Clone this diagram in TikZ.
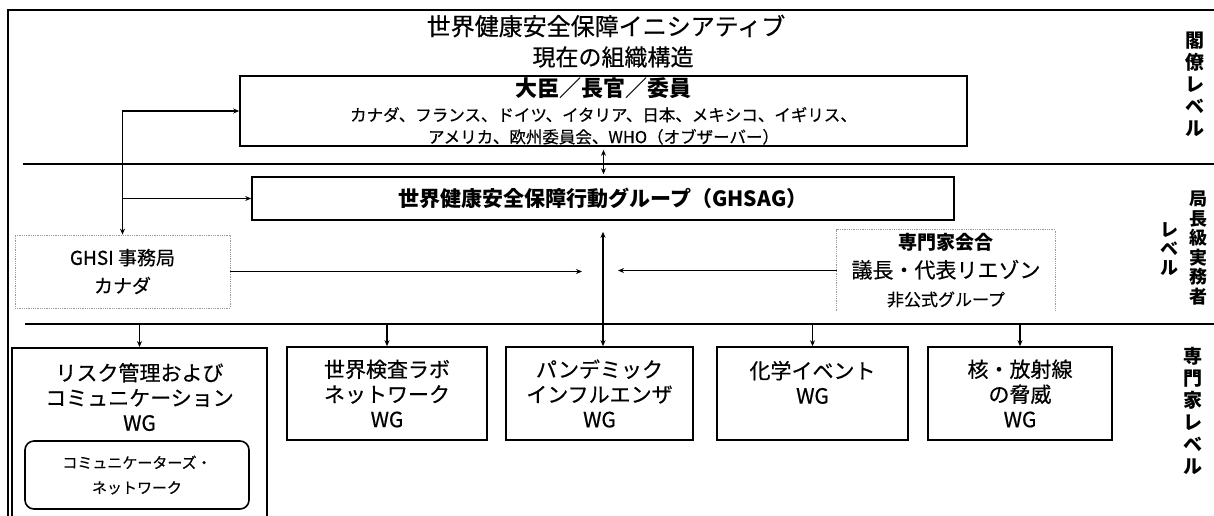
\documentclass[tikz,border=0pt]{standalone}
\usepackage{fontspec}
\setmainfont{Noto Sans CJK JP}[UprightFeatures={FakeBold=0.5}]
\usetikzlibrary{arrows.meta}

\begin{document}
\begin{tikzpicture}[x=1pt,y=-1pt,
    box/.style={draw,line width=1.6pt,align=center,inner sep=0pt},
    faint/.style={draw=black!40,densely dotted,line width=0.8pt},
    wg/.style={box,minimum height=93pt,font=\fontsize{21}{25}\selectfont},
    arr/.style={line width=1.4pt,-{Stealth[length=6pt,width=5pt]}},
    dbl/.style={line width=1.4pt,{Stealth[length=6pt,width=5pt]}-{Stealth[length=6pt,width=5pt]}},
    rule/.style={line width=1.4pt},
    levellbl/.style={align=center,inner sep=0pt}]
  \useasboundingbox (0,0) rectangle (1214,515);
  % frame and level dividers
  \draw[line width=2.5pt] (8,520) -- (8,10) -- (1214,10);
  \draw[rule] (23,164) -- (1214,164);
  \draw[rule] (25,324) -- (1214,324);
  \coordinate (divB) at (25,324);
  % title
  \node[font=\fontsize{24}{26}\selectfont] (title) at (606,26) {世界健康安全保障イニシアティブ};
  \node[font=\fontsize{23}{25}\selectfont] (subtitle) at (613,57) {現在の組織構造};
  % ministers
  \node[box,minimum width=727pt,minimum height=70pt,font=\fontsize{16.5}{22}\selectfont] (minister) at (603.5,111)
    {{\bfseries\fontsize{22}{24}\selectfont 大臣／長官／委員}\\[3pt]
     カナダ、フランス、ドイツ、イタリア、日本、メキシコ、イギリス、\\
     アメリカ、欧州委員会、WHO（オブザーバー）};
  % senior officials
  \node[box,minimum width=702pt,minimum height=43pt,font=\bfseries\fontsize{21}{24}\selectfont] (sag) at (603,198.5)
    {世界健康安全保障行動グループ（GHSAG）};
  \node[faint,minimum width=215pt,minimum height=73pt,align=center,font=\fontsize{19}{28}\selectfont] (ghsi) at (122.5,271.5)
    {GHSI 事務局\\カナダ};
  \node[minimum width=218pt,minimum height=81pt,align=center,inner sep=0pt,font=\fontsize{21}{28}\selectfont] (expert) at (946,270.5)
    {{\bfseries\fontsize{19}{22}\selectfont 専門家会合}\\議長・代表リエゾン\\{\fontsize{17}{20}\selectfont 非公式グループ}};
  \draw[faint] (expert.south west) |- (expert.north east) -- (expert.south east);
  % working groups
  \node[box,minimum width=255pt,minimum height=173pt,anchor=north] (risk) at (139.5,347) {};
  \node[align=center,font=\fontsize{21}{25}\selectfont] (risktext) at (139.5,397)
    {リスク管理および\\コミュニケーション\\WG};
  \node[draw,line width=1.6pt,rounded corners=9pt,minimum width=224pt,minimum height=68pt,align=center,
    font=\fontsize{15}{25}\selectfont] (comms) at (137,475) {コミュニケーターズ・\\ネットワーク};
  \node[wg,minimum width=200pt] (lab) at (387,393.5) {世界検査ラボ\\ネットワーク\\WG};
  \node[wg,minimum width=187pt] (flu) at (599.5,393.5) {パンデミック\\インフルエンザ\\WG};
  \node[wg,minimum width=191pt] (chem) at (812.5,393.5) {化学イベント\\WG\\[-10pt]\strut};
  \node[wg,minimum width=184pt] (nuke) at (1020,393.5) {核・放射線\\の脅威\\WG};
  % level labels
  \node[levellbl,font=\bfseries\fontsize{19}{22}\selectfont] (lvlmin) at (1195,84) {閣\\僚\\レ\\ベ\\ル};
  \node[levellbl,font=\bfseries\fontsize{18}{19.5}\selectfont] (lvlsen) at (1198,248) {局\\長\\級\\実\\務\\者};
  \node[levellbl,font=\bfseries\fontsize{18}{19}\selectfont] (lvlsenb) at (1169,249) {レ\\ベ\\ル};
  \node[levellbl,font=\bfseries\fontsize{19}{22}\selectfont] (lvlexp) at (1193,411) {専\\門\\家\\レ\\ベ\\ル};
  % connectors
  \draw[dbl] (minister.west) -| (ghsi.north);
  \draw[arr] (ghsi.north |- sag.west) -- (sag.west);
  \draw[dbl,shorten <=3pt,shorten >=2pt] (minister.south) -- (minister.south |- sag.north);
  \draw[dbl,shorten <=11pt] (sag.south) -- (sag.south |- flu.north);
  \draw[arr,shorten >=21pt] (ghsi.east) -- (ghsi.east -| sag.south);
  \draw[arr,shorten >=15pt] (expert.west) -- (expert.west -| sag.south);
  \foreach \n in {risk,lab,chem,nuke}
    \draw[arr] (\n.north |- divB) -- (\n.north);
\end{tikzpicture}
\end{document}
